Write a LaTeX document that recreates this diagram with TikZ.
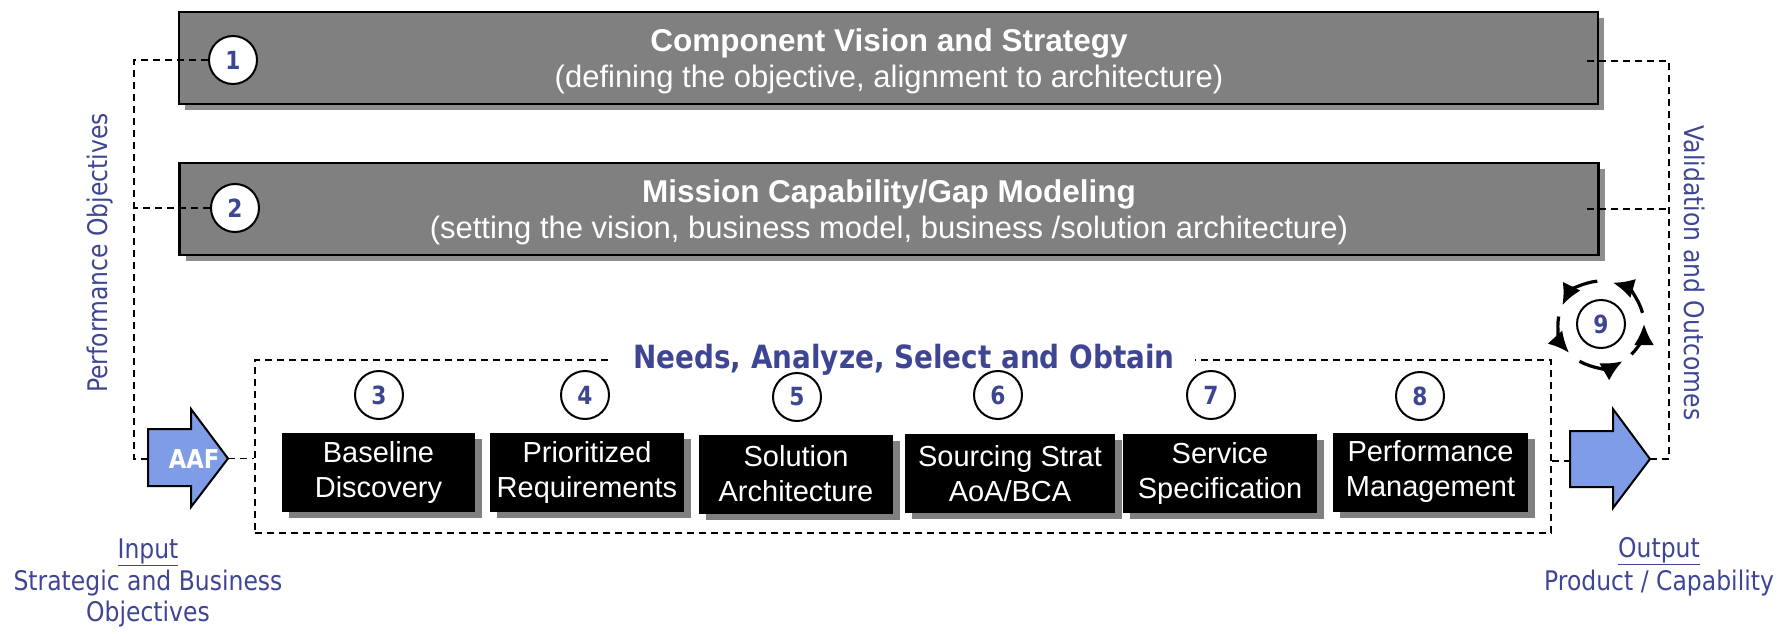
\documentclass[tikz,border=0pt]{standalone}
\usepackage{fontspec}
\setmainfont{Liberation Sans}
\newfontfamily\tahoma[FakeStretch=0.87]{DejaVu Sans}
\usetikzlibrary{arrows.meta,shadows,calc}
\definecolor{boxgray}{RGB}{128,128,128}
\definecolor{shadegray}{RGB}{142,142,142}
\definecolor{arrowblue}{RGB}{127,156,230}
\definecolor{textblue}{RGB}{62,70,148}

\tikzset{
    bigbox/.style={draw=black, line width=2.5pt, fill=boxgray, minimum width=1419pt, minimum height=92pt,
        drop shadow={shadow xshift=6pt, shadow yshift=-6pt, fill=shadegray, opacity=1}},
    titletext/.style={text=white, inner sep=0pt, font={\bfseries\fontsize{31.5}{35}\selectfont}},
    subtext/.style={text=white, inner sep=0pt, font={\fontsize{31}{35}\selectfont}},
    stepbox/.style={fill=black, text=white, align=center, minimum width=194pt, minimum height=79pt, inner sep=0pt,
        font={\fontsize{29}{35}\selectfont},
        drop shadow={shadow xshift=7pt, shadow yshift=-6pt, fill=boxgray, opacity=1}},
    numcirc/.style={circle, draw=black, line width=2pt, fill=white, minimum size=48pt, inner sep=0pt,
        text=textblue, font={\tahoma\bfseries\fontsize{25}{25}\selectfont}},
    dashline/.style={dash pattern=on 7pt off 5pt, line width=1.8pt},
    bluetext/.style={text=textblue, inner sep=0pt, font={\tahoma\fontsize{27}{30}\selectfont}},
    arrowshape/.style={draw=black, line width=2pt, fill=arrowblue, line join=miter},
    loopar/.style={line width=3.2pt, -{Latex[length=21pt,width=20pt]}}
}

\begin{document}
\begin{tikzpicture}[x=1pt, y=-1pt]
    \useasboundingbox (0,0) rectangle (1787,634);

    % Top two boxes
    \node[bigbox] (box1) at (888.5,58) {};
    \node[bigbox] (box2) at (889,209) {};
    \node[titletext, anchor=base] (t1) at (889,52) {Component Vision and Strategy};
    \node[subtext, anchor=base] (s1) at (889,87) {(defining the objective, alignment to architecture)};
    \node[titletext, anchor=base] (t2) at (889,202) {Mission Capability/Gap Modeling};
    \node[subtext, anchor=base] (s2) at (889,238) {(setting the vision, business model, business /solution architecture)};

    % Numbers on the boxes
    \node[numcirc] (c1) at (233,60) {1};
    \node[numcirc] (c2) at (235,208) {2};

    % Dashed frame round the steps
    \node[draw, dashline, minimum width=1296pt, minimum height=173pt] (naso) at (903,446.5) {};
    \node[fill=white, text=textblue, inner xsep=20pt, inner ysep=3pt, anchor=base,
        font={\tahoma\bfseries\fontsize{32}{32}\selectfont}] (nasotitle) at (904,368) {Needs, Analyze, Select and Obtain};

    % Steps
    \node[stepbox, minimum width=193pt] (baseline) at (378.5,472.5) {Baseline\\Discovery};
    \node[stepbox] (prio) at (587,472.5) {Prioritized\\Requirements};
    \node[stepbox] (solarch) at (796,474) {Solution\\Architecture};
    \node[stepbox, minimum width=210pt] (sourcing) at (1010,473.5) {Sourcing Strat\\AoA/BCA};
    \node[stepbox] (service) at (1220,473) {Service\\Specification};
    \node[stepbox, minimum width=195pt] (perf) at (1430.5,472) {Performance\\Management};

    \node[numcirc] (c3) at (379,395) {3};
    \node[numcirc] (c4) at (585,395) {4};
    \node[numcirc] (c5) at (797,397) {5};
    \node[numcirc] (c6) at (998,395) {6};
    \node[numcirc] (c7) at (1211,395) {7};
    \node[numcirc] (c8) at (1420,396) {8};

    % Loop 9
    \node[numcirc] (c9) at (1601,324) {9};
    \foreach \a/\b in {15/74, 95/154, 170/222, 240/300, 315/360}
        \draw[loopar] ([shift={(\a:43pt)}]c9.center) arc[start angle=\a, end angle=\b, radius=43pt];

    % Input and output arrows
    \draw[arrowshape] (148,429) -- (191,429) -- (191,409) -- (228,458.5) -- (191,507) -- (191,486) -- (148,486) -- cycle;
    \draw[arrowshape] (1570,431) -- (1613,431) -- (1613,409) -- (1650,459) -- (1613,508) -- (1613,487) -- (1570,487) -- cycle;
    \node[text=white, inner sep=0pt, anchor=base, font={\tahoma\bfseries\fontsize{26}{26}\selectfont}] (aaf) at (194,468) {AAF};

    \coordinate (lbend) at (134,459);
    \coordinate (aafin) at (148,459);
    \coordinate (aaftip) at (228,458.5);
    \coordinate (outin) at (1570,461);
    \coordinate (outtip) at (1650,459);
    \coordinate (rbend) at (1669,459);

    % Dashed connectors
    \draw[dashline] (c1.west) -| (lbend) -- (aafin);
    \draw[dashline] (c2.west) -- (c2.west -| lbend);
    \draw[dashline] (aaftip) -- (aaftip -| naso.west);
    \draw[dashline] (naso.east |- outin) -- (outin);
    \draw[dashline] (outtip) -- (rbend) |- ([xshift=-13pt,yshift=-3pt]box1.east);
    \draw[dashline] ([xshift=-13pt]box2.east) -- (box2.east -| rbend);

    % Labels
    \node[bluetext, rotate=90] (perfobj) at (100,253) {Performance Objectives};
    \node[bluetext, rotate=-90] (valout) at (1695,273) {Validation and Outcomes};
    \node[bluetext, anchor=base] (inlab) at (148,558) {\underline{Input}};
    \node[bluetext, anchor=base] (inlab2) at (148,590) {Strategic and Business};
    \node[bluetext, anchor=base] (inlab3) at (148,621) {Objectives};
    \node[bluetext, anchor=base] (outlab) at (1659,557) {\underline{Output}};
    \node[bluetext, anchor=base] (outlab2) at (1659,590) {Product / Capability};
\end{tikzpicture}
\end{document}
